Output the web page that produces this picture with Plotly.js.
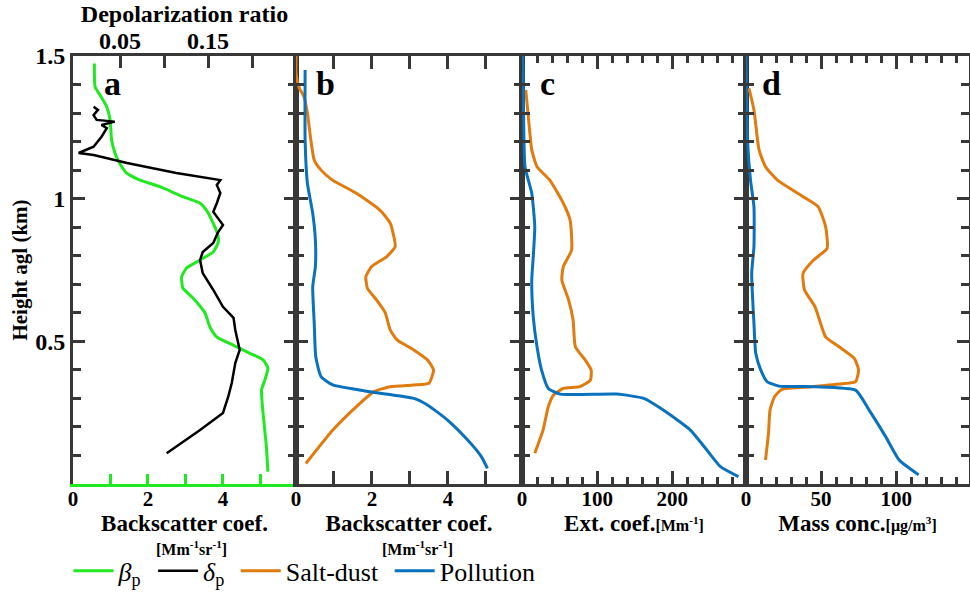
<!DOCTYPE html>
<html>
<head>
<meta charset="utf-8">
<script src="https://cdn.plot.ly/plotly-3.0.1.min.js"></script>
<style>html,body{margin:0;padding:0;background:#fff;}#chart{width:970px;height:593px;}</style>
</head>
<body>
<div id="chart"></div>
<script>
// ---- Panel a: particle backscatter (beta_p) and depolarization ratio (delta_p)
const betaP_x = [0.57,0.59,0.72,0.90,0.99,1.03,1.12,1.20,1.30,1.43,1.79,2.32,2.93,3.39,3.56,3.74,3.87,3.87,3.74,3.39,3.03,2.90,2.93,3.20,3.52,3.65,3.83,4.27,4.72,5.07,5.20,5.12,5.03,5.07,5.16,5.20];
const betaP_h = [1.474,1.392,1.363,1.322,1.276,1.206,1.160,1.135,1.112,1.090,1.065,1.042,1.007,0.984,0.960,0.914,0.870,0.845,0.813,0.785,0.757,0.727,0.687,0.652,0.600,0.551,0.516,0.487,0.458,0.435,0.406,0.365,0.329,0.249,0.131,0.043];
const deltaP_x = [0.020,0.025,0.020,0.0235,0.044,0.029,0.035,0.029,0.020,0.003,0.020,0.058,0.114,0.148,0.164,0.160,0.164,0.160,0.156,0.160,0.167,0.161,0.158,0.156,0.144,0.141,0.144,0.156,0.167,0.179,0.181,0.186,0.181,0.177,0.173,0.167,0.141,0.103];
const deltaP_h = [1.322,1.311,1.293,1.276,1.270,1.258,1.247,1.217,1.182,1.160,1.153,1.125,1.090,1.072,1.065,1.048,1.020,0.984,0.954,0.937,0.908,0.880,0.860,0.845,0.813,0.785,0.739,0.680,0.621,0.582,0.540,0.470,0.424,0.354,0.306,0.249,0.189,0.108];

// ---- Panel b: backscatter coefficient
const saltB_x = [0,0,0.08,0.21,0.30,0.39,0.48,0.66,0.96,1.59,2.21,2.48,2.61,2.39,1.99,1.84,1.88,2.12,2.35,2.48,2.66,3.10,3.46,3.62,3.50,3.10,2.48,2.04,1.59,0.97,0.26];
const saltB_h = [1.50,1.44,1.39,1.357,1.30,1.206,1.135,1.10,1.065,1.019,0.960,0.914,0.832,0.797,0.762,0.727,0.686,0.645,0.600,0.540,0.505,0.470,0.435,0.400,0.353,0.347,0.341,0.323,0.271,0.189,0.072];
const pollB_x = [0.24,0.24,0.30,0.44,0.51,0.51,0.44,0.48,0.52,0.66,0.97,1.95,3.10,3.46,3.99,4.52,4.88,5.04];
const pollB_h = [1.451,1.206,1.054,0.949,0.855,0.762,0.691,0.563,0.446,0.376,0.347,0.323,0.300,0.277,0.224,0.154,0.096,0.055];

// ---- Panel c: extinction coefficient
const saltC_x = [5,8,13,20,37,55,64,66,55,53,62,68,71,84,92,91,77,55,42,35,28,17];
const saltC_h = [1.381,1.300,1.171,1.112,1.065,0.984,0.925,0.820,0.762,0.715,0.645,0.575,0.481,0.435,0.400,0.364,0.341,0.335,0.312,0.271,0.189,0.108];
const pollC_x = [1,2,4,13,17,15,13,15,20,26,35,51,126,162,188,224,246,264,288];
const pollC_h = [1.50,1.32,1.112,1.019,0.902,0.797,0.715,0.586,0.481,0.400,0.335,0.315,0.315,0.300,0.259,0.189,0.119,0.061,0.026];

// ---- Panel d: mass concentration
const saltD_x = [2,5.3,8.7,13,21,38,48,53,54,45,38,39,46,53,62,72,75,73,64,44,24,19,16,15,13];
const saltD_h = [1.387,1.311,1.171,1.112,1.065,1.007,0.972,0.902,0.826,0.785,0.738,0.680,0.621,0.516,0.481,0.441,0.400,0.359,0.351,0.341,0.332,0.306,0.259,0.178,0.084];
const pollD_x = [0,1,3,5.3,5.3,3.8,5.3,6.5,9.8,14,22,46,73,82,93,102,115];
const pollD_h = [1.50,1.206,1.065,0.972,0.832,0.738,0.563,0.458,0.400,0.359,0.343,0.341,0.329,0.259,0.166,0.084,0.032];

const yTickVals = [0.5, 1, 1.5];
const yTickText = ['0.5', '1', '1.5'];
const depolTickVals = [0.05, 0.10, 0.15, 0.20];
const depolTickText = ['0.05', '', '0.15', ''];

const GREEN = '#22e822', BLACK = '#000000', ORANGE = '#e07b10', BLUE = '#0a72bd';
const FRAME = '#383838';
const FONT = "'Liberation Serif', 'Times New Roman', serif";

const traces = [
  {x: betaP_x, y: betaP_h, xaxis: 'x', yaxis: 'y', name: '<i>β</i><sub>p</sub>&nbsp;', mode: 'lines', line: {color: GREEN, width: 3, shape: 'spline', smoothing: 0.5}},
  {x: deltaP_x, y: deltaP_h, xaxis: 'x5', yaxis: 'y', name: '<i>δ</i><sub>p</sub>&nbsp;', mode: 'lines', line: {color: BLACK, width: 2.5}},
  {x: saltB_x, y: saltB_h, xaxis: 'x2', yaxis: 'y2', name: 'Salt-dust&nbsp;', mode: 'lines', line: {color: ORANGE, width: 3, shape: 'spline', smoothing: 0.5}},
  {x: pollB_x, y: pollB_h, xaxis: 'x2', yaxis: 'y2', name: 'Pollution', mode: 'lines', line: {color: BLUE, width: 3, shape: 'spline', smoothing: 0.5}},
  {x: saltC_x, y: saltC_h, xaxis: 'x3', yaxis: 'y3', name: 'Salt-dust', showlegend: false, mode: 'lines', line: {color: ORANGE, width: 3, shape: 'spline', smoothing: 0.5}},
  {x: pollC_x, y: pollC_h, xaxis: 'x3', yaxis: 'y3', name: 'Pollution', showlegend: false, mode: 'lines', line: {color: BLUE, width: 3, shape: 'spline', smoothing: 0.5}},
  {x: saltD_x, y: saltD_h, xaxis: 'x4', yaxis: 'y4', name: 'Salt-dust', showlegend: false, mode: 'lines', line: {color: ORANGE, width: 3, shape: 'spline', smoothing: 0.5}},
  {x: pollD_x, y: pollD_h, xaxis: 'x4', yaxis: 'y4', name: 'Pollution', showlegend: false, mode: 'lines', line: {color: BLUE, width: 3, shape: 'spline', smoothing: 0.5}}
];

const tickFont = {family: FONT, size: 21, color: '#000', weight: 'bold'};
const bigTickFont = {family: FONT, size: 24, color: '#000', weight: 'bold'};
const titleFont = {family: FONT, size: 23, color: '#000', weight: 'bold'};
const unitFont = {family: FONT, size: 16, color: '#000', weight: 'bold'};

function xAx(domain, range, dtick, minorDtick, majorLen, minorLen, title, anchor, opts) {
  return Object.assign({
    domain: domain, range: range, anchor: anchor,
    showline: true, linecolor: FRAME, linewidth: 3, mirror: 'ticks',
    ticks: 'inside', ticklen: majorLen, tickwidth: 3, tickcolor: FRAME,
    dtick: dtick, tick0: 0, ticklabelstandoff: -6,
    minor: {ticks: 'inside', ticklen: minorLen, tickwidth: 3, tickcolor: FRAME, dtick: minorDtick, tick0: 0, showgrid: false},
    showgrid: false, zeroline: false, tickfont: tickFont,
    title: {text: title, font: titleFont, standoff: 3}
  }, opts || {});
}
function yAx(anchor, showLabels, extra) {
  return Object.assign({
    domain: [0, 1], range: [0, 1.5], anchor: anchor,
    showline: true, linecolor: FRAME, linewidth: 3, mirror: 'ticks',
    ticks: 'inside', ticklen: 12, tickwidth: 3, tickcolor: FRAME,
    tickmode: 'array', tickvals: yTickVals, ticktext: yTickText,
    minor: {ticks: 'inside', ticklen: 8, tickwidth: 3, tickcolor: FRAME, tickmode: 'linear', tick0: 0, dtick: 0.1, showgrid: false},
    showgrid: false, zeroline: false, showticklabels: showLabels, tickfont: bigTickFont
  }, extra || {});
}

const unitBS = '[Mm<sup>-1</sup>sr<sup>-1</sup>]';

const layout = {
  width: 970, height: 593,
  margin: {l: 73, r: 1, t: 56, b: 109, autoexpand: false},
  paper_bgcolor: '#fff', plot_bgcolor: '#fff',
  font: {family: FONT, color: '#000'},
  showlegend: true,
  legend: {orientation: 'h', x: -0.005, xanchor: 'left', y: -0.148, yanchor: 'top',
           font: {family: FONT, size: 26, color: '#000'}, bgcolor: 'rgba(0,0,0,0)', itemwidth: 40, tracegroupgap: 0},
  xaxis: xAx([0, 0.2489], [0, 5.95], 2, 1, 10, 10, 'Backscatter coef.', 'y',
             {linecolor: GREEN, tickcolor: GREEN, mirror: false, minor: {ticks: 'inside', ticklen: 10, tickwidth: 3, tickcolor: GREEN, dtick: 1, tick0: 0, showgrid: false}}),
  xaxis5: {overlaying: 'x', side: 'top', anchor: 'y', range: [-0.0034, 0.25],
           showline: true, linecolor: FRAME, linewidth: 3,
           ticks: 'inside', ticklen: 12, tickwidth: 3, tickcolor: FRAME,
           tickmode: 'array', tickvals: depolTickVals, ticktext: depolTickText,
           showgrid: false, zeroline: false, tickfont: bigTickFont, ticklabelstandoff: -6,
           title: {text: 'Depolarization ratio', font: {family: FONT, size: 24, color: '#000', weight: 'bold'}, standoff: 0}},
  xaxis2: xAx([0.2489, 0.5011], [0, 5.95], 2, 1, 13, 13, 'Backscatter coef.', 'y2'),
  xaxis3: xAx([0.5011, 0.7511], [0, 298], 100, 20, 13, 7, "Ext. coef.<span style='font-size:16px'>[Mm<sup>-1</sup>]</span>", 'y3'),
  xaxis4: xAx([0.7511, 1], [0, 148.5], 50, 10, 13, 7, "Mass conc.<span style='font-size:16px'>[μg/m<sup>3</sup>]</span>", 'y4'),
  yaxis: yAx('x', true, {title: {text: 'Height agl (km)', font: {family: FONT, size: 21, color: '#000', weight: 'bold'}, standoff: 2}}),
  yaxis2: yAx('x2', false, {matches: 'y'}),
  yaxis3: yAx('x3', false, {matches: 'y'}),
  yaxis4: yAx('x4', false, {matches: 'y'}),
  annotations: [
    {text: 'a', xref: 'x domain', yref: 'y domain', x: 0.13, y: 0.935, xanchor: 'left', yanchor: 'middle', showarrow: false, font: {family: FONT, size: 34, weight: 'bold', color: '#000'}},
    {text: 'b', xref: 'x2 domain', yref: 'y2 domain', x: 0.08, y: 0.935, xanchor: 'left', yanchor: 'middle', showarrow: false, font: {family: FONT, size: 34, weight: 'bold', color: '#000'}},
    {text: 'c', xref: 'x3 domain', yref: 'y3 domain', x: 0.07, y: 0.935, xanchor: 'left', yanchor: 'middle', showarrow: false, font: {family: FONT, size: 34, weight: 'bold', color: '#000'}},
    {text: 'd', xref: 'x4 domain', yref: 'y4 domain', x: 0.065, y: 0.935, xanchor: 'left', yanchor: 'middle', showarrow: false, font: {family: FONT, size: 34, weight: 'bold', color: '#000'}},
    {text: unitBS, xref: 'paper', yref: 'paper', x: 0.1317, y: -0.1495, xanchor: 'center', yanchor: 'middle', showarrow: false, font: unitFont},
    {text: unitBS, xref: 'paper', yref: 'paper', x: 0.385, y: -0.1495, xanchor: 'center', yanchor: 'middle', showarrow: false, font: unitFont}
  ]
};

Plotly.newPlot('chart', traces, layout, {displayModeBar: false, staticPlot: true});
</script>
</body>
</html>
